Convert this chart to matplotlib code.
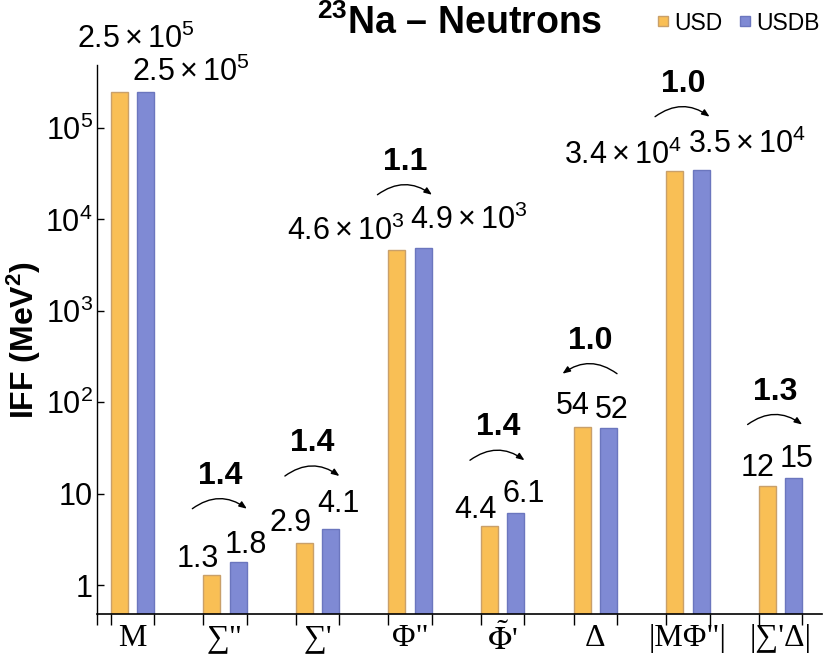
import numpy as np
import matplotlib
matplotlib.use('Agg')
import matplotlib.pyplot as plt
from matplotlib.transforms import offset_copy
from matplotlib.lines import Line2D

plt.rcParams['font.family'] = ['Liberation Sans', 'DejaVu Sans']
plt.rcParams['mathtext.fontset'] = 'custom'
plt.rcParams['mathtext.rm'] = 'Liberation Sans'
plt.rcParams['mathtext.it'] = 'Liberation Sans:italic'
plt.rcParams['mathtext.bf'] = 'Liberation Sans:bold'

# data
categories = ['M', '∑"', "∑'", 'Φ"', r"$\tilde{\Phi}$'", 'Δ', '|MΦ"|', "|∑'Δ|"]
usd = [2.5e5, 1.3, 2.9, 4.6e3, 4.4, 54, 3.4e4, 12]
usdb = [2.5e5, 1.8, 4.1, 4.9e3, 6.1, 52, 3.5e4, 15]
ratios = [None, '1.4', '1.4', '1.1', '1.4', '1.0', '1.0', '1.3']

c_usd, e_usd = '#F9BF55', '#C9A06A'
c_usdb, e_usdb = '#7F8AD4', '#6B76BE'

# label placement (pixels above bar top)
usd_dy = [44, 8, 12, 10, 8, 13, 7, 10]
usdb_dy = [11, 9, 17, 19, 11, 10, 17, 11]


def fmt(v):
    if v >= 1000:
        e = int(np.floor(np.log10(v)))
        return r'$%.1f\times10^{%d}$' % (v / 10**e, e)
    return f'{v:.2g}'


fig = plt.figure(figsize=(8.3, 6.6), dpi=100)
ax = fig.add_axes([97/830, 46/660, 725/830, 549/660])
ax.set_yscale('log')

x = np.arange(len(categories))
w = 0.184
off = 0.143
ax.bar(x - off, usd, width=w, color=c_usd, edgecolor=e_usd, linewidth=1, label='USD')
ax.bar(x + off, usdb, width=w, color=c_usdb, edgecolor=e_usdb, linewidth=1, label='USDB')

ax.set_ylim(0.482, 4.89e5)
ax.set_xlim(-0.384, 7.45)

for s in ['top', 'right']:
    ax.spines[s].set_visible(False)
ax.spines['left'].set_linewidth(1)
ax.spines['bottom'].set_linewidth(1.2)

yt = [1, 10, 1e2, 1e3, 1e4, 1e5]
ax.set_yticks(yt, ['1', '10', r'$10^{2}$', r'$10^{3}$', r'$10^{4}$', r'$10^{5}$'])
ax.yaxis.set_minor_locator(matplotlib.ticker.NullLocator())
ax.tick_params(axis='y', direction='in', length=5, width=1, labelsize=22, pad=3)

edges = [-0.384]
for xi in x:
    edges += [xi - off - w/2, xi + off + w/2]
ax.set_xticks(edges, [''] * len(edges))
ax.set_xticks(x, categories, minor=True)
ax.tick_params(axis='x', which='major', direction='out', length=8, width=1)
ax.tick_params(axis='x', which='minor', length=0, labelsize=23, pad=7)
for lbl in ax.get_xticklabels(minor=True):
    lbl.set_fontfamily(['Liberation Serif', 'DejaVu Serif'])
    lbl.set_math_fontfamily('stix')

ax.set_ylabel(r'IFF (MeV$^{\mathbf{2}}$)', fontsize=23, fontweight='bold', labelpad=2)
ax.set_title(r'$^{\mathbf{23}}$Na – Neutrons', fontsize=27, fontweight='bold', pad=22)


def tr(dx, dy):
    return offset_copy(ax.transData, fig=fig, x=dx, y=dy, units='dots')


for i in x:
    xo, xb = i - off, i + off
    if i == 0:
        ax.text(xo, usd[i], fmt(usd[i]), transform=tr(16, usd_dy[i]), ha='center',
                va='baseline', fontsize=22)
    else:
        ax.text(xo + w/2, usd[i], fmt(usd[i]), transform=tr(-1, usd_dy[i]), ha='right',
                va='baseline', fontsize=22)
    ax.text(xb - w/2, usdb[i], fmt(usdb[i]), transform=tr(-5, usdb_dy[i]), ha='left',
            va='baseline', fontsize=22)

    if ratios[i] is None:
        continue
    top = max(usd[i], usdb[i])
    left = (xo - w/2, top, -11)
    right = (xb + w/2, top, 0)
    if usdb[i] >= usd[i]:
        a, b, rad = left, right, -0.36
    else:
        a, b, rad = right, left, 0.36
    ax.annotate('', xy=(b[0], b[1]), xycoords=tr(b[2], 53),
                xytext=(a[0], a[1]), textcoords=tr(a[2], 53),
                arrowprops=dict(arrowstyle='-|>,head_length=0.45,head_width=0.18',
                                color='black', lw=1, shrinkA=0, shrinkB=0,
                                connectionstyle=f'arc3,rad={rad}'))
    ax.text((xo - w/2 + xb + w/2) / 2, top, ratios[i], transform=tr(-5, 86),
            ha='center', va='center', fontsize=23, fontweight='bold')

handles = [Line2D([], [], marker='s', ls='', markersize=7, markerfacecolor=c_usd,
                  markeredgecolor=e_usd),
           Line2D([], [], marker='s', ls='', markersize=7, markerfacecolor=c_usdb,
                  markeredgecolor=e_usdb)]
fig.legend(handles, ['USD', 'USDB'], loc='center', bbox_to_anchor=(738/830, 1 - 23/660),
           ncol=2, frameon=False, fontsize=16.5, handlelength=0.6, handletextpad=0.2,
           columnspacing=0.7, borderaxespad=0)

fig.savefig('out.png', dpi=100)
